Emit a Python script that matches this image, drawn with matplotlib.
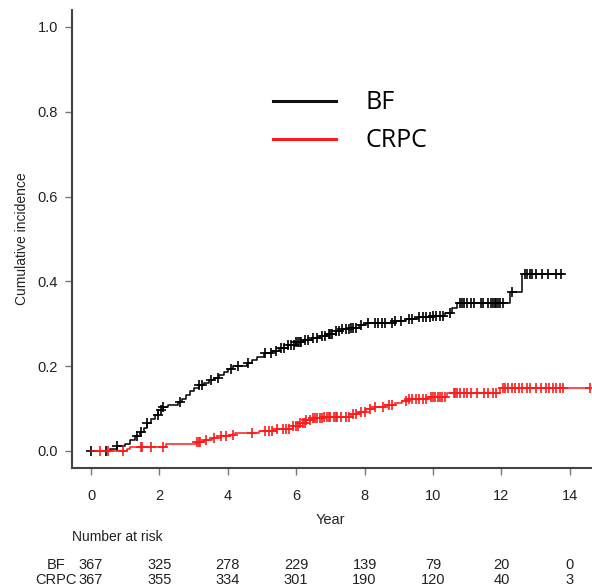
import numpy as np
import matplotlib
matplotlib.use("Agg")
import matplotlib.pyplot as plt
from matplotlib.lines import Line2D

plt.rcParams['font.family'] = ['Liberation Sans', 'DejaVu Sans']

# cumulative incidence step knots (time in years, value)
bf_t = [0, 0.55, 0.75, 1.0, 1.15, 1.3, 1.42, 1.55, 1.65, 1.75, 1.87, 1.97, 2.1, 2.25,
        2.55, 2.65, 2.78, 2.9, 3.0, 3.15, 3.3, 3.45, 3.6, 3.75, 3.9, 4.0, 4.15, 4.55,
        4.7, 4.85, 5.05, 5.3, 5.5, 5.75, 6.0, 6.2, 6.45, 6.7, 6.95, 7.15, 7.35, 7.6,
        7.85, 8.05, 8.85, 9.2, 9.55, 10.0, 10.35, 10.55, 10.7, 12.25, 12.6]
bf_v = [0, 0.005, 0.012, 0.017, 0.025, 0.035, 0.045, 0.055, 0.065, 0.075, 0.086, 0.097,
        0.104, 0.108, 0.115, 0.122, 0.132, 0.142, 0.149, 0.155, 0.161, 0.167, 0.173,
        0.18, 0.187, 0.193, 0.2, 0.207, 0.214, 0.222, 0.23, 0.236, 0.242, 0.249, 0.256,
        0.261, 0.266, 0.271, 0.277, 0.283, 0.287, 0.291, 0.296, 0.302, 0.306, 0.311,
        0.315, 0.319, 0.325, 0.338, 0.348, 0.374, 0.418]
bf_end = 13.8
bf_cens = [0, 0.45, 0.75, 1.35, 1.45, 1.65, 1.95, 2.05, 2.1, 2.6, 3.15, 3.25, 3.5, 3.7,
           4.1, 4.3, 4.6, 5.1, 5.25, 5.4, 5.55, 5.65, 5.75, 5.85, 5.95, 6.0, 6.05, 6.1,
           6.15, 6.25, 6.35, 6.5, 6.6, 6.75, 6.85, 6.95, 7.0, 7.05, 7.15, 7.25, 7.35,
           7.45, 7.55, 7.6, 7.65, 7.75, 7.9, 8.1, 8.3, 8.4, 8.5, 8.6, 8.8, 8.9, 9.05,
           9.3, 9.4, 9.6, 9.7, 9.8, 9.9, 10.0, 10.1, 10.2, 10.3, 10.5, 10.8, 10.85,
           10.9, 11.0, 11.1, 11.2, 11.4, 11.45, 11.6, 11.7, 11.75, 11.8, 11.85, 11.9,
           11.95, 12.05, 12.3, 12.7, 12.75, 12.85, 12.9, 13.0, 13.2, 13.35, 13.6, 13.75]

cr_t = [0, 1.05, 1.15, 2.2, 3.1, 3.3, 3.55, 3.8, 4.05, 4.2, 4.9, 5.4, 5.9, 6.1, 6.3,
        6.5, 6.8, 7.6, 7.85, 8.05, 8.3, 8.6, 8.9, 9.1, 9.3, 9.85, 10.4, 11.95]
cr_v = [0, 0.004, 0.009, 0.016, 0.021, 0.026, 0.031, 0.035, 0.038, 0.043, 0.047, 0.052,
        0.058, 0.066, 0.072, 0.077, 0.081, 0.087, 0.091, 0.099, 0.103, 0.108, 0.113,
        0.119, 0.122, 0.128, 0.137, 0.148]
cr_end = 14.6
cr_cens = [0.25, 0.5, 0.95, 1.45, 1.5, 1.75, 2.1, 3.1, 3.15, 3.2, 3.35, 3.6, 3.8, 3.95,
           4.15, 4.7, 5.1, 5.2, 5.3, 5.45, 5.6, 5.7, 5.8, 5.9, 6.0, 6.05, 6.1, 6.2, 6.25,
           6.3, 6.4, 6.5, 6.55, 6.6, 6.7, 6.75, 6.8, 6.9, 6.95, 7.0, 7.1, 7.15, 7.2, 7.3,
           7.45, 7.55, 7.65, 7.75, 7.9, 8.0, 8.15, 8.3, 8.55, 8.7, 8.8, 9.2, 9.3, 9.4,
           9.5, 9.6, 9.7, 9.8, 9.95, 10.0, 10.05, 10.15, 10.2, 10.25, 10.35, 10.6, 10.65,
           10.7, 10.8, 10.9, 11.0, 11.1, 11.3, 11.5, 11.6, 11.75, 11.85, 12.05, 12.1,
           12.2, 12.3, 12.4, 12.5, 12.6, 12.75, 12.85, 13.0, 13.15, 13.3, 13.4, 13.5,
           13.6, 13.7, 13.8, 14.6]

risk_times = [0, 2, 4, 6, 8, 10, 12, 14]
risk_bf = [367, 325, 278, 229, 139, 79, 20, 0]
risk_crpc = [367, 355, 334, 301, 190, 120, 40, 3]

fig = plt.figure(figsize=(5.92, 5.87), dpi=100)
ax = fig.add_axes([72 / 592, 1 - 468 / 587, 1 - 72 / 592, (468 - 10) / 587])


def draw_curve(t, v, end, cens, color):
    tt = np.array(t + [end])
    vv = np.array(v + [v[-1]])
    ax.step(tt, vv, where='post', color=color, lw=1.1)
    idx = np.searchsorted(np.array(t), np.array(cens), side='right') - 1
    ax.plot(cens, np.array(v)[idx], ls='none', marker='+', ms=7, mew=1.2, color=color)


draw_curve(bf_t, bf_v, bf_end, bf_cens, 'black')
draw_curve(cr_t, cr_v, cr_end, cr_cens, '#ff1a1a')

ax.set_xlim((72 - 91) / 34.2, (592 - 91) / 34.2)
ax.set_ylim((451 - 468) / 424, (451 - 10) / 424)
ax.set_xticks(range(0, 15, 2))
ax.set_yticks([0, 0.2, 0.4, 0.6, 0.8, 1.0])
ax.set_yticklabels(['0.0', '0.2', '0.4', '0.6', '0.8', '1.0'])
for s in ['top', 'right']:
    ax.spines[s].set_visible(False)
for s in ['left', 'bottom']:
    ax.spines[s].set_color('#444444')
    ax.spines[s].set_linewidth(1.5)
ax.tick_params(axis='both', length=5, width=1, color='#777777', labelsize=10.5,
               labelcolor='#222222')
ax.tick_params(axis='x', pad=10)
ax.tick_params(axis='y', pad=5)
ax.set_ylabel('Cumulative incidence', fontsize=10, color='#222222', labelpad=6)

fig.text(330 / 592, 1 - 520 / 587, 'Year', ha='center', va='center', fontsize=10.5,
         color='#222222')
fig.text(72 / 592, 1 - 537 / 587, 'Number at risk', ha='left', va='center', fontsize=10,
         color='#222222')
for lab, vals, yp in [('BF', risk_bf, 565), ('CRPC', risk_crpc, 580)]:
    fig.text(56 / 592, 1 - yp / 587, lab, ha='center', va='center', fontsize=10.5,
             color='#222222')
    for t, n in zip(risk_times, vals):
        xp = 91 + 34.2 * t
        fig.text(xp / 592, 1 - yp / 587, str(n), ha='center', va='center', fontsize=10.5,
                 color='#222222')

handles = [Line2D([], [], color='#111111', lw=2.2), Line2D([], [], color='#ff1a1a', lw=2.2)]
fig.legend(handles, ['BF', 'CRPC'], loc='center left', bbox_to_anchor=(273 / 592, 1 - 122 / 587),
           frameon=False, borderpad=0, borderaxespad=0, handlelength=2.5, handletextpad=1.2,
           labelspacing=0.52, prop={'family': 'Open Sans', 'size': 18})

fig.savefig('out.png', dpi=100)
